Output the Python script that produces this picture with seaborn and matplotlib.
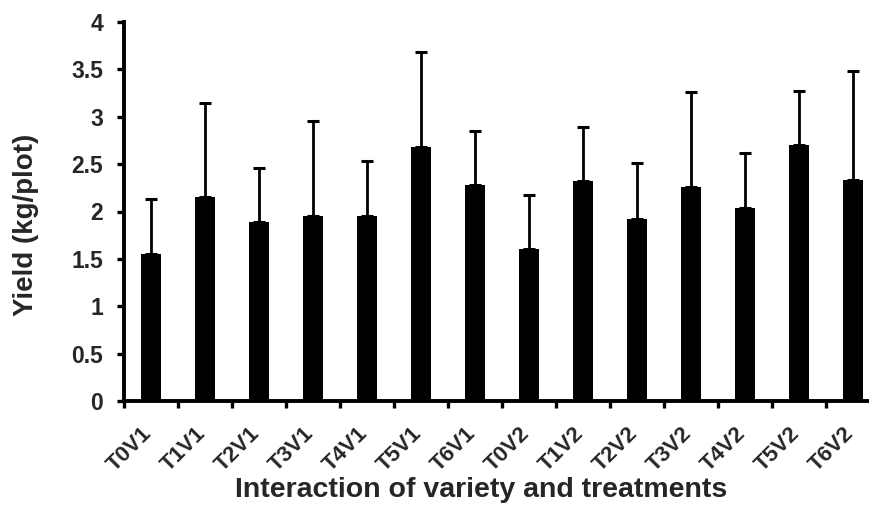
import matplotlib
matplotlib.use("Agg")
import matplotlib.pyplot as plt
import matplotlib.transforms as mtransforms
import numpy as np
import pandas as pd
import seaborn as sns

# Treatment x variety combinations
categories = ["T0V1", "T1V1", "T2V1", "T3V1", "T4V1", "T5V1", "T6V1",
              "T0V2", "T1V2", "T2V2", "T3V2", "T4V2", "T5V2", "T6V2"]
# Mean yield (kg/plot)
yield_mean = [1.55, 2.15, 1.89, 1.95, 1.95, 2.68, 2.28,
              1.60, 2.32, 1.92, 2.26, 2.04, 2.70, 2.33]
# Upper error (kg/plot)
yield_err = [0.58, 1.00, 0.57, 1.00, 0.58, 1.00, 0.57,
             0.57, 0.57, 0.59, 1.00, 0.58, 0.57, 1.15]
y_ticks = [0, 0.5, 1, 1.5, 2, 2.5, 3, 3.5, 4]
y_tick_labels = ["0", "0.5", "1", "1.5", "2", "2.5", "3", "3.5", "4"]

df = pd.DataFrame({"combo": categories, "yield": yield_mean, "err": yield_err})

sns.set_theme(style="white")
plt.rcParams["font.family"] = ["Liberation Sans", "DejaVu Sans"]
plt.rcParams["font.weight"] = "bold"

fig = plt.figure(figsize=(8.7, 5.05), dpi=100)
ax = fig.add_axes([124 / 870, 1 - 401 / 505, 756 / 870, 379 / 505])

sns.barplot(data=df, x="combo", y="yield", color="black", width=0.37,
            saturation=1, errorbar=None, ax=ax, edgecolor="black", linewidth=0)

# one-sided (upper) error bars
x_pos = np.arange(len(categories))
ax.errorbar(x_pos, df["yield"], yerr=[np.zeros(len(categories)), df["err"]],
            fmt="none", ecolor="black", elinewidth=2.0, capsize=4.5,
            capthick=2.2, zorder=3)

ax.set_xlim(-0.5, len(categories) - 0.5)
ax.set_ylim(0, 4)
ax.set_yticks(y_ticks)
ax.set_yticklabels(y_tick_labels, fontsize=16.5, fontweight="bold")

# category labels at bar centres, tick marks at the category boundaries
ax.set_xticks(x_pos)
ax.set_xticklabels(categories, fontsize=16, fontweight="bold",
                   rotation=45, ha="right", va="center", rotation_mode="anchor")
ax.set_xticks(np.arange(-0.5, len(categories) + 0.5, 1), minor=True)
ax.tick_params(axis="x", which="major", length=0, pad=21)
ax.tick_params(axis="x", which="minor", length=5, width=2.4, color="black",
               direction="out", bottom=True)
ax.tick_params(axis="y", which="major", length=5, width=2.4, color="black",
               direction="out", left=True, pad=10)

offset = mtransforms.ScaledTranslation(-2 / 100, 0, fig.dpi_scale_trans)
for lab in ax.get_xticklabels():
    lab.set_transform(lab.get_transform() + offset)

for side in ["top", "right"]:
    ax.spines[side].set_visible(False)
for side in ["left", "bottom"]:
    ax.spines[side].set_linewidth(2.8)
    ax.spines[side].set_color("black")

ax.set_xlabel("Interaction of variety and treatments", fontsize=20.5,
              fontweight="bold")
ax.set_ylabel("Yield (kg/plot)", fontsize=20, fontweight="bold")
ax.xaxis.label.set_va("center")
ax.yaxis.label.set_va("center")
ax.xaxis.set_label_coords(0.472, -0.235)
ax.yaxis.set_label_coords(-0.13, 0.464)

fig.savefig("out.png", dpi=100, facecolor="white")
